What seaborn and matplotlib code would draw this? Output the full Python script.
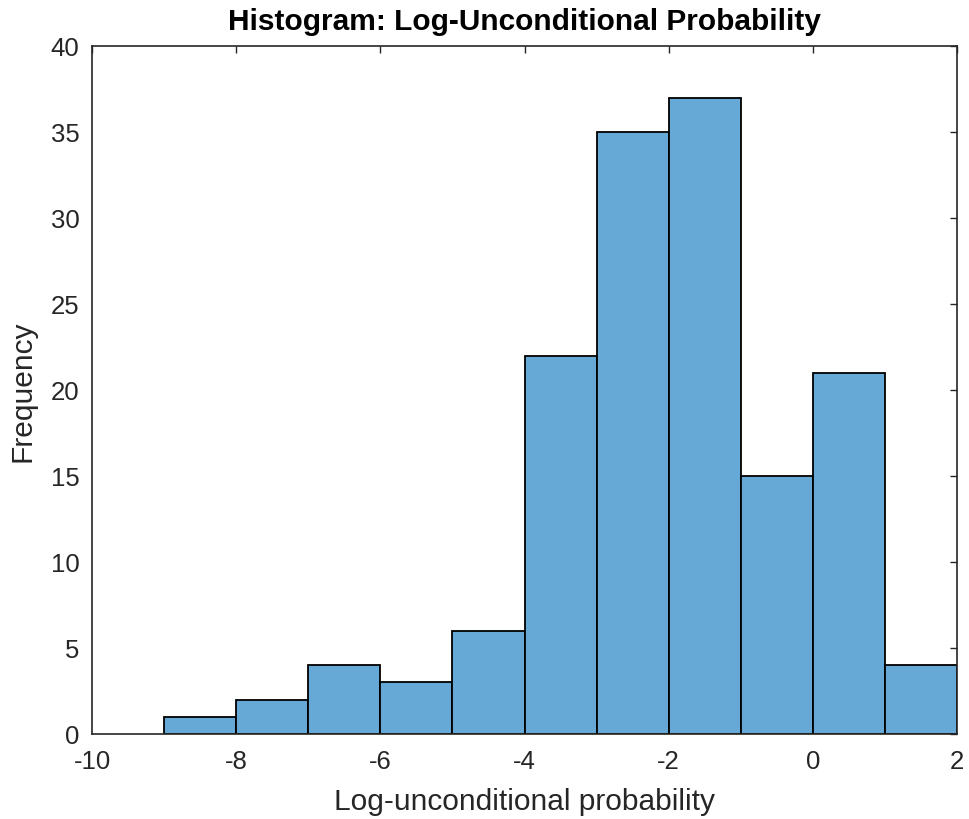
import matplotlib.pyplot as plt
import numpy as np
import seaborn as sns

bar_color = (0.40, 0.66, 0.84)
axis_grey = (0.15, 0.15, 0.15)

bin_edges = [-9, -8, -7, -6, -5, -4, -3, -2, -1, 0, 1, 2]
counts = [1, 2, 4, 3, 6, 22, 35, 37, 15, 21, 4]
bin_centers = [(a + b) / 2 for a, b in zip(bin_edges[:-1], bin_edges[1:])]

sns.set_style('white')
plt.rcParams['font.family'] = ['Liberation Sans', 'DejaVu Sans']
plt.rcParams['axes.unicode_minus'] = False

fig = plt.figure(figsize=(9.69, 8.2), dpi=100)
ax = fig.add_axes([0.095, 0.1037, 0.8926, 0.839])

sns.histplot(x=bin_centers, weights=counts, bins=bin_edges, ax=ax,
             color=bar_color, alpha=1, edgecolor='black', linewidth=1.3)

ax.set_xlim(-10, 2)
ax.set_ylim(0, 40)
ax.set_xticks(np.arange(-10, 3, 2))
ax.set_yticks(np.arange(0, 41, 5))
ax.tick_params(direction='in', top=True, right=True, length=5, width=1,
               colors=axis_grey, labelsize=18.5)
ax.tick_params(axis='x', pad=11)
ax.tick_params(axis='y', pad=9)
for s in ax.spines.values():
    s.set_color(axis_grey)
    s.set_linewidth(1.2)

ax.set_xlabel('Log-unconditional probability', fontsize=21.5, color=axis_grey, labelpad=10)
ax.set_ylabel('Frequency', fontsize=21.5, color=axis_grey, labelpad=10)
ax.set_title('Histogram: Log-Unconditional Probability', fontsize=21.5,
             fontweight='bold', color='black', pad=12)

plt.savefig('out.png', dpi=100)
